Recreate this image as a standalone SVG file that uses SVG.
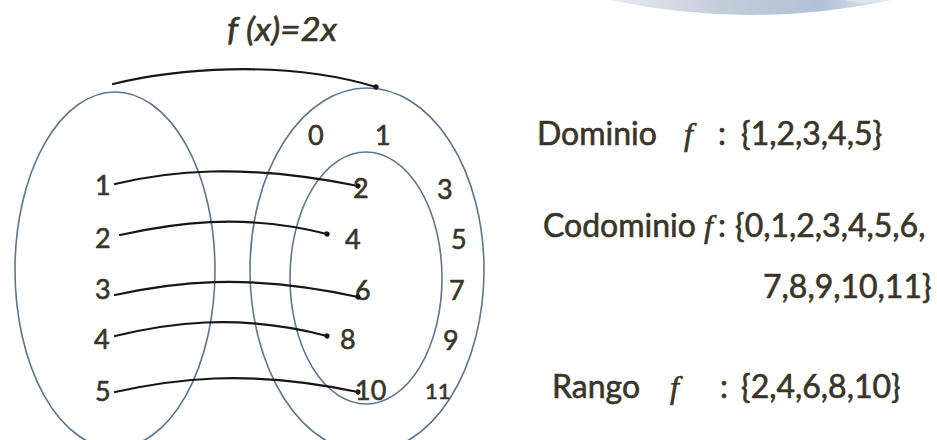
<svg xmlns="http://www.w3.org/2000/svg" width="937" height="440" viewBox="0 0 937 440">
<defs>
<style>
.set{fill:none;stroke:#5b7694;stroke-width:1.6}
.con{fill:none;stroke:#161616;stroke-width:2.2;stroke-linecap:round}
.t{font-family:Lato,"Open Sans","Liberation Sans",sans-serif;fill:#3a3528;stroke:#3a3528;stroke-width:0.6}
.n{font-size:27px}
.s{font-size:32px}
.fi{font-family:"Liberation Serif",serif;font-style:italic}
</style>
<marker id="dot" viewBox="0 0 6 6" refX="3" refY="3" markerWidth="6" markerHeight="6" markerUnits="userSpaceOnUse" orient="auto">
<circle cx="3" cy="3" r="2.6" fill="#161616"/>
</marker>
<linearGradient id="sw" x1="0" y1="0" x2="1" y2="0">
<stop offset="0" stop-color="#e6ebf1"/>
<stop offset="0.4" stop-color="#c3cdda"/>
<stop offset="0.75" stop-color="#b0c1d8"/>
<stop offset="1" stop-color="#e8edf3"/>
</linearGradient>
</defs>
<rect width="937" height="440" fill="#ffffff"/>
<path d="M610,0 Q750,30 892,0 Z" fill="url(#sw)"/>
<path d="M845,0 Q868,5 882,0 Z" fill="#dfe6ef"/>

<g id="title">
<text class="t" x="227" y="41" font-size="33" font-style="italic" textLength="110" lengthAdjust="spacingAndGlyphs">f (x)=2x</text>
</g>

<g id="domain">
<ellipse class="set" cx="115" cy="270" rx="100" ry="178"/>
<text class="t n" x="95" y="195">1</text>
<text class="t n" x="95" y="248">2</text>
<text class="t n" x="95" y="299">3</text>
<text class="t n" x="94" y="349">4</text>
<text class="t n" x="95" y="401">5</text>
</g>

<g id="codomain">
<ellipse class="set" cx="367" cy="270" rx="117" ry="182"/>
<text class="t n" x="308" y="145">0</text>
<text class="t n" x="375" y="145">1</text>
<text class="t n" x="437" y="199">3</text>
<text class="t n" x="451" y="249">5</text>
<text class="t n" x="449" y="300">7</text>
<text class="t n" x="443" y="350">9</text>
<text class="t" x="425" y="399" font-size="22">11</text>
</g>

<g id="range">
<ellipse class="set" cx="366" cy="278" rx="76" ry="126"/>
<text class="t n" x="353" y="198">2</text>
<text class="t n" x="345" y="249">4</text>
<text class="t n" x="355" y="300">6</text>
<text class="t n" x="340" y="349">8</text>
<text class="t n" x="355" y="400">10</text>
</g>

<g id="connectors">
<path class="con" marker-end="url(#dot)" d="M113,84 C170,70 280,58 376,87"/>
<path class="con" marker-end="url(#dot)" d="M115,184 C165,172 240,162 358,186"/>
<path class="con" marker-end="url(#dot)" d="M120,235 C170,224 240,212 327,234"/>
<path class="con" marker-end="url(#dot)" d="M115,295 C170,283 245,272 358,297"/>
<path class="con" marker-end="url(#dot)" d="M115,336 C165,324 235,312 327,336"/>
<path class="con" marker-end="url(#dot)" d="M115,392 C170,380 245,368 358,392"/>
</g>

<g id="definitions">
<text class="t s" x="537" y="145">Dominio</text>
<text class="t s fi" x="684" y="145">f</text>
<text class="t s" x="718" y="145">:</text>
<text class="t s" x="741" y="145">{1,2,3,4,5}</text>

<text class="t s" x="543" y="237">Codominio</text>
<text class="t s fi" x="704" y="237">f</text>
<text class="t s" x="718" y="237">:</text>
<text class="t s" x="735" y="237">{0,1,2,3,4,5,6,</text>
<text class="t s" x="763" y="298">7,8,9,10,11}</text>

<text class="t s" x="552" y="398">Rango</text>
<text class="t s fi" x="670" y="398">f</text>
<text class="t s" x="720" y="398">:</text>
<text class="t s" x="741" y="398">{2,4,6,8,10}</text>
</g>
</svg>
